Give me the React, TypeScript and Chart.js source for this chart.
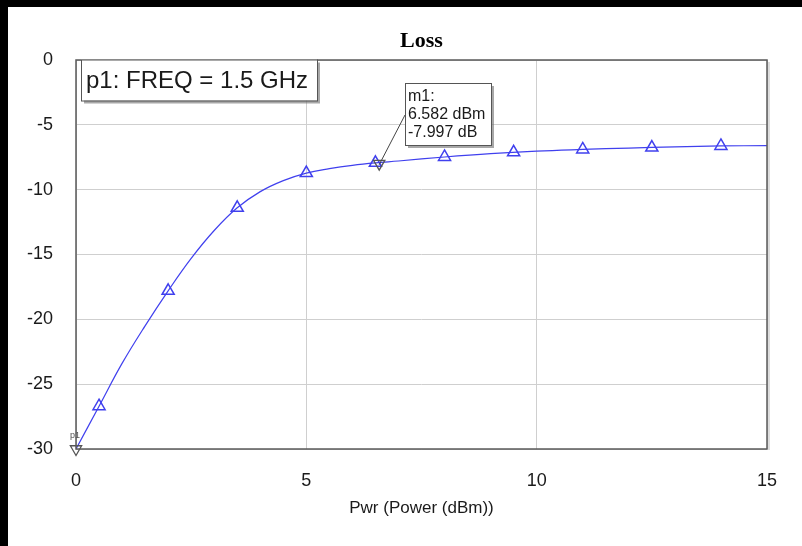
import React, { useEffect, useRef } from "react";
import { Chart, registerables } from "chart.js";
Chart.register(...registerables);

const curveX = [0, 0.5, 1, 1.5, 2, 2.5, 3, 3.5, 4, 4.5, 5, 5.5, 6, 6.5, 7, 8, 9, 10, 11, 12, 13, 14, 15];
const curveY = [-30, -26.7, -23.4, -20.5, -17.8, -15.3, -13.15, -11.4, -10.15, -9.3, -8.72, -8.38, -8.12, -7.93, -7.79, -7.48, -7.22, -7.03, -6.9, -6.79, -6.7, -6.63, -6.6];
const markerX = [0.5, 2, 3.5, 5, 6.5, 8, 9.5, 11, 12.5, 14];
const markerY = [-26.7, -17.8, -11.4, -8.72, -7.93, -7.48, -7.12, -6.9, -6.75, -6.63];
const m1 = { x: 6.582, y: -7.997, label: "m1:", xText: "6.582 dBm", yText: "-7.997 dB" };
const p1 = { x: 0, y: -30, label: "p1", text: "p1: FREQ = 1.5 GHz" };
const titleText = "Loss";
const xTitle = "Pwr (Power (dBm))";

const SANS = "'Liberation Sans', Arial, sans-serif";
const BLUE = "#4040ee";

const overlay = {
  id: "overlay",
  afterDraw(chart: any) {
    const { ctx, chartArea: a, scales } = chart;
    const xs = scales.x, ys = scales.y;
    ctx.save();
    ctx.strokeStyle = "#5a5a5a";
    ctx.lineWidth = 1.5;
    ctx.strokeRect(a.left, a.top, a.right - a.left, a.bottom - a.top);
    ctx.strokeStyle = "rgba(120,120,120,0.5)";
    ctx.lineWidth = 1;
    ctx.beginPath();
    ctx.moveTo(a.right + 2, a.top + 2);
    ctx.lineTo(a.right + 2, a.bottom + 1);
    ctx.stroke();

    ctx.fillStyle = "#000";
    ctx.font = "bold 22px 'Liberation Serif', 'Times New Roman', serif";
    ctx.textAlign = "center";
    ctx.textBaseline = "middle";
    ctx.fillText(titleText, (a.left + a.right) / 2, 34);

    const bx = 73, by = 52.5, bw = 236, bh = 41;
    ctx.fillStyle = "rgba(110,110,110,0.6)";
    ctx.fillRect(bx + 3, by + 3, bw, bh);
    ctx.fillStyle = "#fff";
    ctx.fillRect(bx, by, bw, bh);
    ctx.strokeStyle = "#555";
    ctx.lineWidth = 1;
    ctx.strokeRect(bx + 0.5, by + 0.5, bw, bh);
    ctx.fillStyle = "#1a1a1a";
    ctx.font = "24px " + SANS;
    ctx.textAlign = "left";
    ctx.textBaseline = "middle";
    ctx.fillText(p1.text, bx + 5, by + bh / 2 + 1);

    const px = xs.getPixelForValue(p1.x), py = ys.getPixelForValue(p1.y);
    ctx.fillStyle = "#555";
    ctx.font = "9px " + SANS;
    ctx.textAlign = "center";
    ctx.fillText(p1.label, px - 1, py - 13);

    const mx = xs.getPixelForValue(m1.x), my = ys.getPixelForValue(m1.y);
    const mbx = 397, mby = 76, mbw = 86, mbh = 62;
    ctx.strokeStyle = "#444";
    ctx.lineWidth = 1;
    ctx.beginPath();
    ctx.moveTo(mx, my + 1);
    ctx.lineTo(mbx, mby + 32);
    ctx.stroke();
    ctx.fillStyle = "rgba(110,110,110,0.6)";
    ctx.fillRect(mbx + 3, mby + 3, mbw, mbh);
    ctx.fillStyle = "#fff";
    ctx.fillRect(mbx, mby, mbw, mbh);
    ctx.strokeStyle = "#555";
    ctx.strokeRect(mbx + 0.5, mby + 0.5, mbw, mbh);
    ctx.fillStyle = "#1a1a1a";
    ctx.font = "16px " + SANS;
    ctx.textAlign = "left";
    ctx.textBaseline = "middle";
    ctx.fillText(m1.label, mbx + 3, mby + 14);
    ctx.fillText(m1.xText, mbx + 3, mby + 32);
    ctx.fillText(m1.yText, mbx + 3, mby + 50);
    ctx.restore();
  },
};

export default function App() {
  const ref = useRef<HTMLCanvasElement>(null);
  useEffect(() => {
    document.body.style.margin = "0";
    document.body.style.background = "#000";
    const chart = new Chart(ref.current!, {
      type: "scatter",
      data: {
        datasets: [
          {
            data: curveX.map((x, i) => ({ x, y: curveY[i] })),
            showLine: true,
            borderColor: BLUE,
            borderWidth: 1.2,
            pointRadius: 0,
            tension: 0.4,
            order: 3,
          } as any,
          {
            data: markerX.map((x, i) => ({ x, y: markerY[i] })),
            showLine: false,
            pointStyle: "triangle",
            pointRadius: 7,
            borderColor: BLUE,
            borderWidth: 1.5,
            backgroundColor: "rgba(0,0,0,0)",
            order: 2,
          },
          {
            data: [{ x: m1.x, y: m1.y }, { x: p1.x, y: p1.y }],
            showLine: false,
            pointStyle: "triangle",
            rotation: 180,
            pointRadius: 6.5,
            borderColor: "#555",
            borderWidth: 1.3,
            backgroundColor: "rgba(0,0,0,0)",
            clip: false,
            order: 1,
          } as any,
        ],
      },
      options: {
        responsive: false,
        animation: false,
        layout: { padding: { left: 0, top: 53, right: 35, bottom: 0 } },
        plugins: { legend: { display: false }, tooltip: { enabled: false }, title: { display: false } },
        scales: {
          x: {
            type: "linear",
            min: 0,
            max: 15,
            afterFit: (s: any) => { s.height = 97; },
            ticks: { stepSize: 5, color: "#1a1a1a", font: { family: SANS, size: 18 }, padding: 21 },
            grid: { color: "#cfcfcf", lineWidth: 1, drawTicks: false },
            border: { display: false },
            title: { display: true, text: xTitle, color: "#1a1a1a", font: { family: SANS, size: 17 }, padding: { top: 4, bottom: 27 } },
          },
          y: {
            type: "linear",
            min: -30,
            max: 0,
            afterFit: (s: any) => { s.width = 68; },
            ticks: { stepSize: 5, color: "#1a1a1a", font: { family: SANS, size: 18 }, padding: 23 },
            grid: { color: "#cfcfcf", lineWidth: 1, drawTicks: false },
            border: { display: false },
          },
        },
      },
      plugins: [overlay],
    });
    return () => chart.destroy();
  }, []);
  return (
    <div style={{ position: "absolute", left: 8, top: 7, width: 794, height: 539, background: "#fff" }}>
      <canvas ref={ref} width={794} height={539} />
    </div>
  );
}
